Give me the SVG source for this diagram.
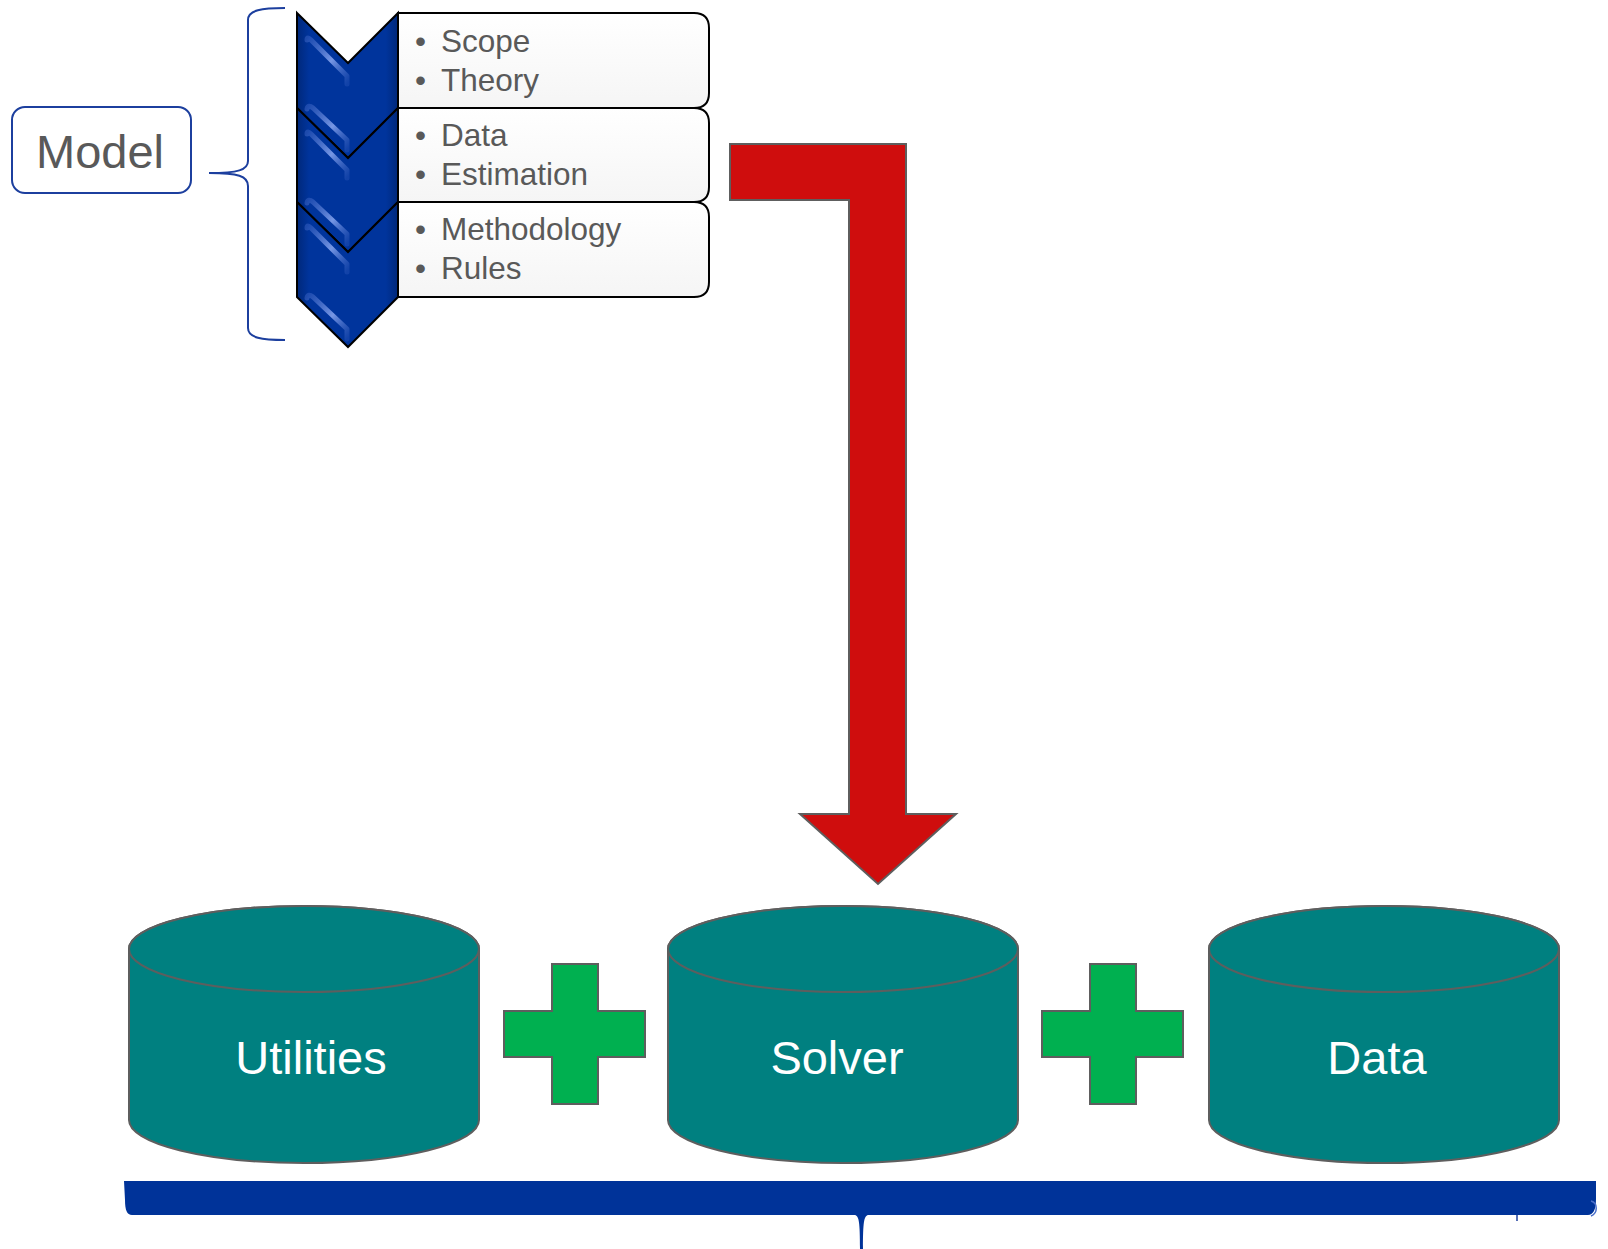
<svg xmlns="http://www.w3.org/2000/svg" width="1608" height="1249" viewBox="0 0 1608 1249">
  <style>
    .lbl { font-family: "Liberation Sans", Arial, sans-serif; fill: #595959; }
    .bul { font-family: "Liberation Sans", Arial, sans-serif; font-size: 31.5px; fill: #595959; }
    .cyl-txt { font-family: "Liberation Sans", Arial, sans-serif; font-size: 47px; fill: #ffffff; text-anchor: middle; }
    .cyl { fill: #008080; stroke: #5e5e5e; stroke-width: 2; }
    .plus { fill: #00b050; stroke: #5e5e5e; stroke-width: 2; }
    .chev { fill: url(#chevFill); stroke: #000000; stroke-width: 2; stroke-linejoin: miter; }
    .shine { stroke: url(#shineGrad); stroke-width: 5; stroke-linecap: round; stroke-linejoin: round; fill: none; }
    .card { fill: url(#cardFill); stroke: #000000; stroke-width: 2; }
  </style>
  <defs>
    <linearGradient id="chevFill" x1="0" y1="0" x2="1" y2="0">
      <stop offset="0" stop-color="#00287a"/>
      <stop offset="0.12" stop-color="#00349c"/>
      <stop offset="0.88" stop-color="#00349c"/>
      <stop offset="1" stop-color="#00287a"/>
    </linearGradient>
    <linearGradient id="shineGrad" gradientUnits="objectBoundingBox" x1="0" y1="0" x2="1" y2="1">
      <stop offset="0" stop-color="#3b63c4" stop-opacity="0.5"/>
      <stop offset="0.55" stop-color="#7d9ce8" stop-opacity="0.95"/>
      <stop offset="1" stop-color="#3b63c4" stop-opacity="0.3"/>
    </linearGradient>
    <linearGradient id="cardFill" x1="0" y1="0" x2="0" y2="1">
      <stop offset="0" stop-color="#ffffff"/>
      <stop offset="1" stop-color="#f5f5f5"/>
    </linearGradient>
  </defs>

  <!-- Model label -->
  <g id="model">
    <rect x="12" y="107" width="179" height="86" rx="13" fill="#ffffff" stroke="#1c3f9e" stroke-width="2"/>
    <text class="lbl" x="100" y="168" font-size="47" text-anchor="middle">Model</text>
  </g>

  <!-- curly brace grouping the steps -->
  <g id="model-brace">
    <path d="M285,8 C262,8 248,10 248,20 L248,161 C248,170 238,173 209,173 C238,173 248,176 248,186 L248,328 C248,338 262,340 285,340" fill="none" stroke="#1c3f9e" stroke-width="2"/>
  </g>

  <!-- step cards -->
  <g id="card-1">
    <path class="card" d="M398,13 L694,13 Q709,13 709,28 L709,93 Q709,108 694,108 L398,108 Z"/>
    <text class="bul"><tspan x="415" y="52">•</tspan><tspan x="441" y="52">Scope</tspan></text>
    <text class="bul"><tspan x="415" y="91">•</tspan><tspan x="441" y="91">Theory</tspan></text>
  </g>
  <g id="card-2">
    <path class="card" d="M398,108 L694,108 Q709,108 709,123 L709,187 Q709,202 694,202 L398,202 Z"/>
    <text class="bul"><tspan x="415" y="146">•</tspan><tspan x="441" y="146">Data</tspan></text>
    <text class="bul"><tspan x="415" y="185">•</tspan><tspan x="441" y="185">Estimation</tspan></text>
  </g>
  <g id="card-3">
    <path class="card" d="M398,202 L694,202 Q709,202 709,217 L709,282 Q709,297 694,297 L398,297 Z"/>
    <text class="bul"><tspan x="415" y="240">•</tspan><tspan x="441" y="240">Methodology</tspan></text>
    <text class="bul"><tspan x="415" y="279">•</tspan><tspan x="441" y="279">Rules</tspan></text>
  </g>

  <!-- chevrons -->
  <g id="chevron-1">
    <polygon class="chev" points="297,13 348,63 398,13 398,108 348,158 297,108"/>
    <path class="shine" d="M307,40 Q307,36 311,40 L347,76 L347,84"/>
    <path class="shine" d="M307,109 Q308,104 313,108 L347,140 L347,150"/>
  </g>
  <g id="chevron-2">
    <polygon class="chev" points="297,108 348,158 398,108 398,202 348,252 297,202"/>
    <path class="shine" d="M307,134 Q307,130 311,134 L347,170 L347,178"/>
    <path class="shine" d="M307,203 Q308,198 313,202 L347,234 L347,244"/>
  </g>
  <g id="chevron-3">
    <polygon class="chev" points="297,202 348,252 398,202 398,297 348,347 297,297"/>
    <path class="shine" d="M307,228 Q307,224 311,228 L347,264 L347,272"/>
    <path class="shine" d="M307,298 Q308,293 313,297 L347,329 L347,339"/>
  </g>

  <!-- connectors -->
  <g id="connectors">
    <path id="flow-arrow" d="M730,144 L906,144 L906,814 L956,814 L878,884 L800,814 L849,814 L849,200 L730,200 Z" fill="#cf0d0d" stroke="#5e5e5e" stroke-width="2" stroke-linejoin="miter"/>
  </g>

  <!-- components -->
  <g id="utilities">
    <path class="cyl" d="M129,949 L129,1120 A175,43 0 0 0 479,1120 L479,949 A175,43 0 0 0 129,949 Z"/>
    <ellipse class="cyl" cx="304" cy="949" rx="175" ry="43"/>
    <text class="cyl-txt" x="311" y="1074">Utilities</text>
  </g>
  <g id="plus-1">
    <path class="plus" d="M552,964 L598,964 L598,1011 L645,1011 L645,1057 L598,1057 L598,1104 L552,1104 L552,1057 L504,1057 L504,1011 L552,1011 Z"/>
  </g>
  <g id="solver">
    <path class="cyl" d="M668,949 L668,1120 A175,43 0 0 0 1018,1120 L1018,949 A175,43 0 0 0 668,949 Z"/>
    <ellipse class="cyl" cx="843" cy="949" rx="175" ry="43"/>
    <text class="cyl-txt" x="837" y="1074">Solver</text>
  </g>
  <g id="plus-2">
    <path class="plus" d="M1090,964 L1136,964 L1136,1011 L1183,1011 L1183,1057 L1136,1057 L1136,1104 L1090,1104 L1090,1057 L1042,1057 L1042,1011 L1090,1011 Z"/>
  </g>
  <g id="data">
    <path class="cyl" d="M1209,949 L1209,1120 A175,43 0 0 0 1559,1120 L1559,949 A175,43 0 0 0 1209,949 Z"/>
    <ellipse class="cyl" cx="1384" cy="949" rx="175" ry="43"/>
    <text class="cyl-txt" x="1377" y="1074">Data</text>
  </g>

  <!-- wide brace under the components -->
  <g id="base-brace">
    <path d="M124,1181 L1596,1181 L1596,1199 C1596,1210 1593,1215 1588,1215 L868,1215 C864,1216 863,1222 863,1249 L860,1249 C860,1222 859,1216 855,1215 L132,1215 C127,1215 125,1210 125,1200 Z" fill="#003399"/>
    <path d="M1591,1201 C1598,1203 1598,1213 1591,1216" fill="none" stroke="#4a6fc9" stroke-width="1.5"/>
    <line x1="1517" y1="1215" x2="1517" y2="1221" stroke="#1c3f9e" stroke-width="1.5"/>
  </g>
</svg>
